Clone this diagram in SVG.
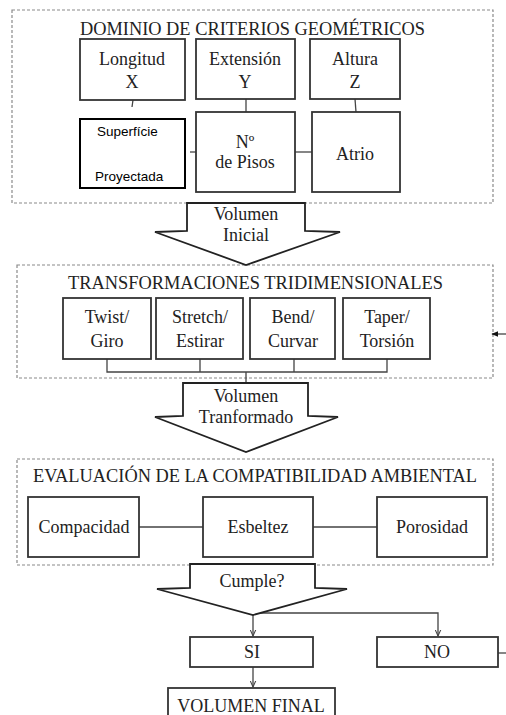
<svg xmlns="http://www.w3.org/2000/svg" width="506" height="715" viewBox="0 0 506 715">
<defs>
<style>
.dash{fill:none;stroke:#8a8a8a;stroke-width:1.2;stroke-dasharray:3 2}
.box{fill:#fff;stroke:#333;stroke-width:1.8}
.boxb{fill:#fff;stroke:#000;stroke-width:2}
.arr{fill:#fff;stroke:#222;stroke-width:1.8;stroke-linejoin:miter}
.ln{fill:none;stroke:#444;stroke-width:1.3}
.t{font-family:"Liberation Serif","Times New Roman",serif;font-size:18px;fill:#222;text-anchor:middle}
.ti{font-family:"Liberation Serif","Times New Roman",serif;font-size:18px;fill:#222}
.s{font-family:"Liberation Sans",Arial,sans-serif;font-size:13.5px;fill:#000}
</style>
<marker id="ah" viewBox="0 0 10 10" refX="9" refY="5" markerWidth="7" markerHeight="7" orient="auto" markerUnits="userSpaceOnUse">
<path d="M0,1 L9,5 L0,9" fill="none" stroke="#444" stroke-width="1.5"/>
</marker>
<marker id="ahf" viewBox="0 0 10 10" refX="9" refY="5" markerWidth="7" markerHeight="7" orient="auto" markerUnits="userSpaceOnUse">
<path d="M0,1 L10,5 L0,9 Z" fill="#111"/>
</marker>
</defs>

<g id="group-geom">
<rect class="dash" x="12" y="10" width="481" height="193"/>
<text class="ti" x="80" y="35" textLength="345" lengthAdjust="spacingAndGlyphs">DOMINIO DE CRITERIOS GEOMÉTRICOS</text>
</g>
<g id="group-trans">
<rect class="dash" x="17" y="265" width="476" height="113"/>
<text class="ti" x="68" y="289" textLength="375" lengthAdjust="spacingAndGlyphs">TRANSFORMACIONES TRIDIMENSIONALES</text>
</g>
<g id="group-eval">
<rect class="dash" x="17" y="459" width="476" height="106"/>
<text class="ti" x="33" y="482" textLength="444" lengthAdjust="spacingAndGlyphs">EVALUACIÓN DE LA COMPATIBILIDAD AMBIENTAL</text>
</g>

<g id="connectors">
<path class="ln" d="M133,100 L132,107"/>
<path class="ln" d="M246,99 L246,112"/>
<path class="ln" d="M355,99 L356,112"/>
<path class="ln" d="M190,152 L196,152"/>
<path class="ln" d="M295,152 L312,152"/>
<path class="ln" d="M107,359 L107,372 L387,372 L387,359 M200,359 L200,372 M294,359 L294,372 M246,372 L246,383"/>
<path class="ln" d="M139,527 L203,527 M313,527 L377,527"/>
<path class="ln" d="M253,615 L253,636" marker-end="url(#ah)"/>
<path class="ln" d="M258,613 L438,613 L438,636" marker-end="url(#ah)"/>
<path class="ln" d="M253,667 L253,687" marker-end="url(#ah)"/>
<path class="ln" d="M498,653 L506,653"/>
<path class="ln" d="M506,334 L492,334" marker-end="url(#ahf)"/>
</g>

<g id="n-longitud"><rect class="box" x="80" y="39" width="105" height="61"/><text class="t" x="132" y="65">Longitud</text><text class="t" x="132" y="88">X</text></g>
<g id="n-extension"><rect class="box" x="196" y="39" width="99" height="60"/><text class="t" x="245" y="65">Extensión</text><text class="t" x="245" y="88">Y</text></g>
<g id="n-altura"><rect class="box" x="310" y="39" width="90" height="60"/><text class="t" x="355" y="65">Altura</text><text class="t" x="355" y="88">Z</text></g>
<g id="n-superficie"><rect class="boxb" x="80" y="119" width="105" height="69"/><text class="s" x="97" y="136">Superfície</text><text class="s" x="95" y="181">Proyectada</text></g>
<g id="n-pisos"><rect class="box" x="196" y="112" width="99" height="80"/><text class="t" x="245" y="148">Nº</text><text class="t" x="245" y="168">de Pisos</text></g>
<g id="n-atrio"><rect class="box" x="312" y="112" width="88" height="80"/><text class="t" x="355" y="160">Atrio</text></g>

<g id="n-vol-inicial"><path class="arr" d="M187,203 L305,203 L305,231 L340,232 L246,265 L155,232 L187,231 Z"/><text class="t" x="246" y="220">Volumen</text><text class="t" x="246" y="241">Inicial</text></g>

<g id="n-twist"><rect class="box" x="63" y="298" width="88" height="61"/><text class="t" x="107" y="323">Twist/</text><text class="t" x="107" y="347">Giro</text></g>
<g id="n-stretch"><rect class="box" x="156" y="298" width="87" height="61"/><text class="t" x="200" y="323">Stretch/</text><text class="t" x="200" y="347">Estirar</text></g>
<g id="n-bend"><rect class="box" x="250" y="298" width="85" height="61"/><text class="t" x="293" y="323">Bend/</text><text class="t" x="293" y="347">Curvar</text></g>
<g id="n-taper"><rect class="box" x="343" y="298" width="87" height="61"/><text class="t" x="387" y="323">Taper/</text><text class="t" x="387" y="347">Torsión</text></g>

<g id="n-vol-transf"><path class="arr" d="M183,383 L308,383 L308,416 L338,417 L246,452 L155,417 L183,416 Z"/><text class="t" x="246" y="402">Volumen</text><text class="t" x="246" y="423">Tranformado</text></g>

<g id="n-compacidad"><rect class="box" x="28" y="497" width="111" height="60"/><text class="t" x="84" y="533">Compacidad</text></g>
<g id="n-esbeltez"><rect class="box" x="203" y="497" width="110" height="60"/><text class="t" x="258" y="533">Esbeltez</text></g>
<g id="n-porosidad"><rect class="box" x="377" y="497" width="110" height="60"/><text class="t" x="432" y="533">Porosidad</text></g>

<g id="n-cumple"><path class="arr" d="M190,564 L315,564 L315,588 L347,589 L253,615 L157,589 L190,588 Z"/><text class="t" x="252" y="587">Cumple?</text></g>

<g id="n-si"><rect class="box" x="190" y="637" width="123" height="30"/><text class="t" x="252" y="658">SI</text></g>
<g id="n-no"><rect class="box" x="377" y="637" width="121" height="30"/><text class="t" x="437" y="658">NO</text></g>
<g id="n-final"><rect class="box" x="168" y="688" width="167" height="40"/><text class="t" x="251" y="712">VOLUMEN FINAL</text></g>
</svg>
